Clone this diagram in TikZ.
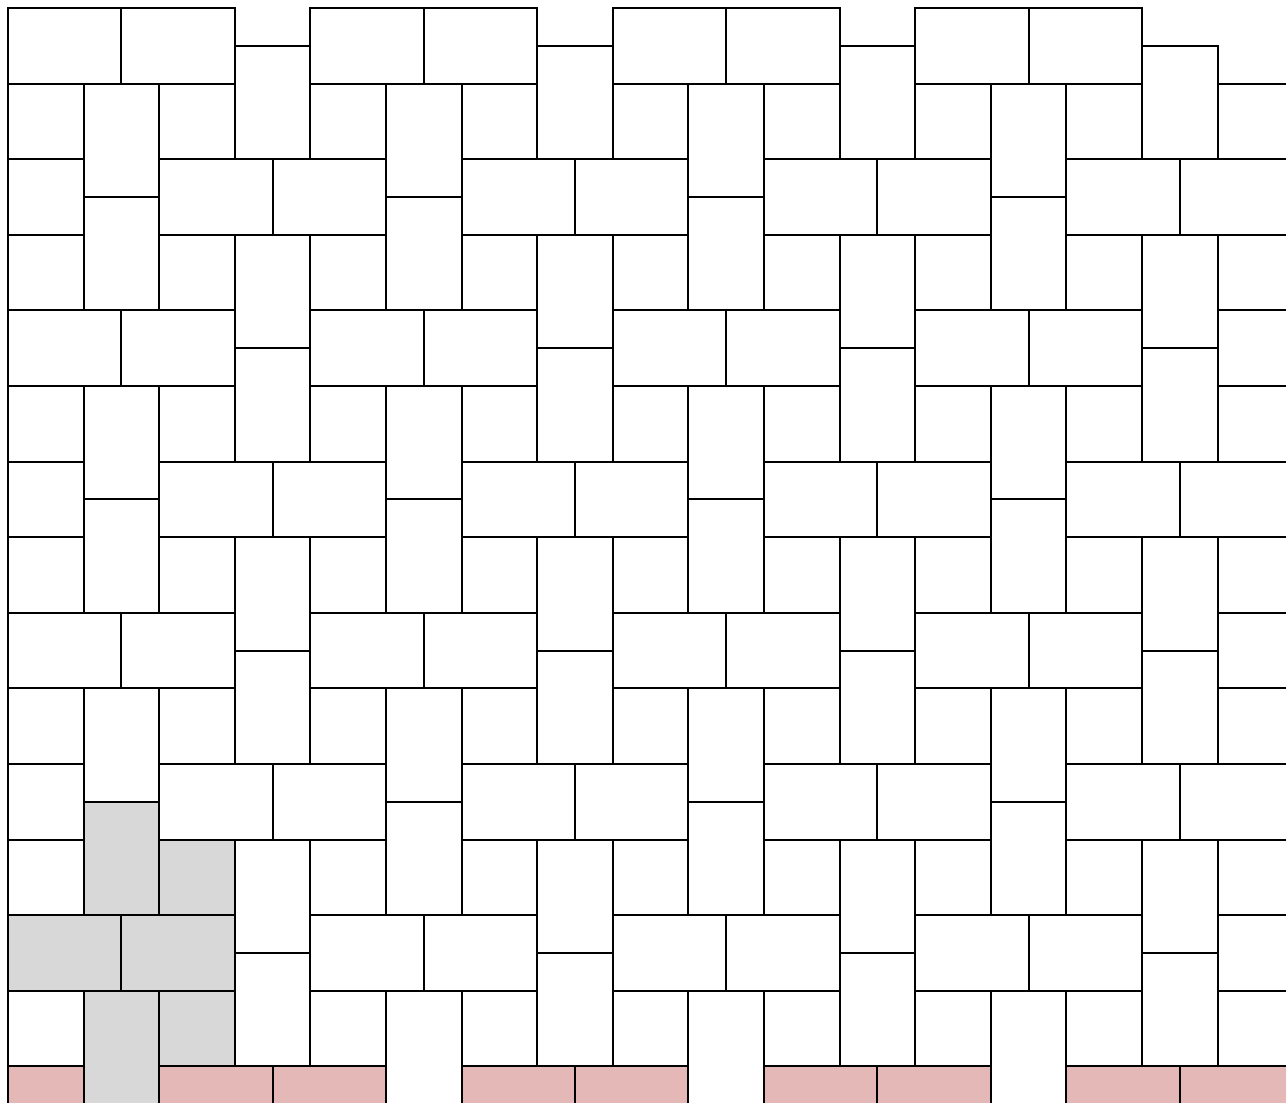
\documentclass[tikz,border=0pt]{standalone}
\usepackage{tikz}
\definecolor{TileGray}{RGB}{216,216,216}
\definecolor{TilePink}{RGB}{229,184,184}
\tikzset{
  tile/.style={draw=black,fill=white,line width=0.75pt},
  marked/.style={tile,fill=TileGray},
  bottomrow/.style={tile,fill=TilePink},
}

\begin{document}
\begin{tikzpicture}[yscale=-1]
\useasboundingbox (-0.106,-0.106) rectangle (16.905,14.471);
\clip (-0.106,-0.106) rectangle (16.905,14.471);
% basic 4x4 block, repeated
\foreach \i in {0,...,4} {
  \foreach \j in {0,...,3} {
    \pgfmathsetmacro{\a}{4*\i}
    \pgfmathsetmacro{\b}{4*\j}
    \pgfmathsetmacro{\l}{max(\a-0.5,0)}
    \ifnum\numexpr\i*10+\j\relax=40 \else
      \draw[tile] (\a,\b) rectangle (\a+1.5,\b+1);
    \fi
    \draw[tile] (\a+1.5,\b) rectangle (\a+3,\b+1);
    \draw[tile] (\a+3,\b+0.5) rectangle (\a+4,\b+2);
    \draw[tile] (\a,\b+1) rectangle (\a+1,\b+2);
    \draw[tile] (\a+1,\b+1) rectangle (\a+2,\b+2.5);
    \draw[tile] (\a+2,\b+1) rectangle (\a+3,\b+2);
    \draw[tile] (\a+1,\b+2.5) rectangle (\a+2,\b+4);
    \draw[tile] (\l,\b+2) rectangle (\a+1,\b+3);
    \draw[tile] (\a+2,\b+2) rectangle (\a+3.5,\b+3);
    \draw[tile] (\a+3,\b+3) rectangle (\a+4,\b+4.5);
    \draw[tile] (\a,\b+3) rectangle (\a+1,\b+4);
    \draw[tile] (\a+2,\b+3) rectangle (\a+3,\b+4);
  }
}
% grey group
\draw[marked] (1,10.5) rectangle (2,12);
\draw[marked] (2,11) rectangle (3,12);
\draw[marked] (0,12) rectangle (1.5,13);
\draw[marked] (1.5,12) rectangle (3,13);
\draw[marked] (1,13) rectangle (2,14.5);
\draw[marked] (2,13) rectangle (3,14);
% last row
\draw[bottomrow] (0,14) rectangle (1,15);
\foreach \x in {2,6,10,14} {
  \draw[bottomrow] (\x,14) rectangle (\x+1.5,15);
  \draw[bottomrow] (\x+1.5,14) rectangle (\x+3,15);
}
\end{tikzpicture}
\end{document}
